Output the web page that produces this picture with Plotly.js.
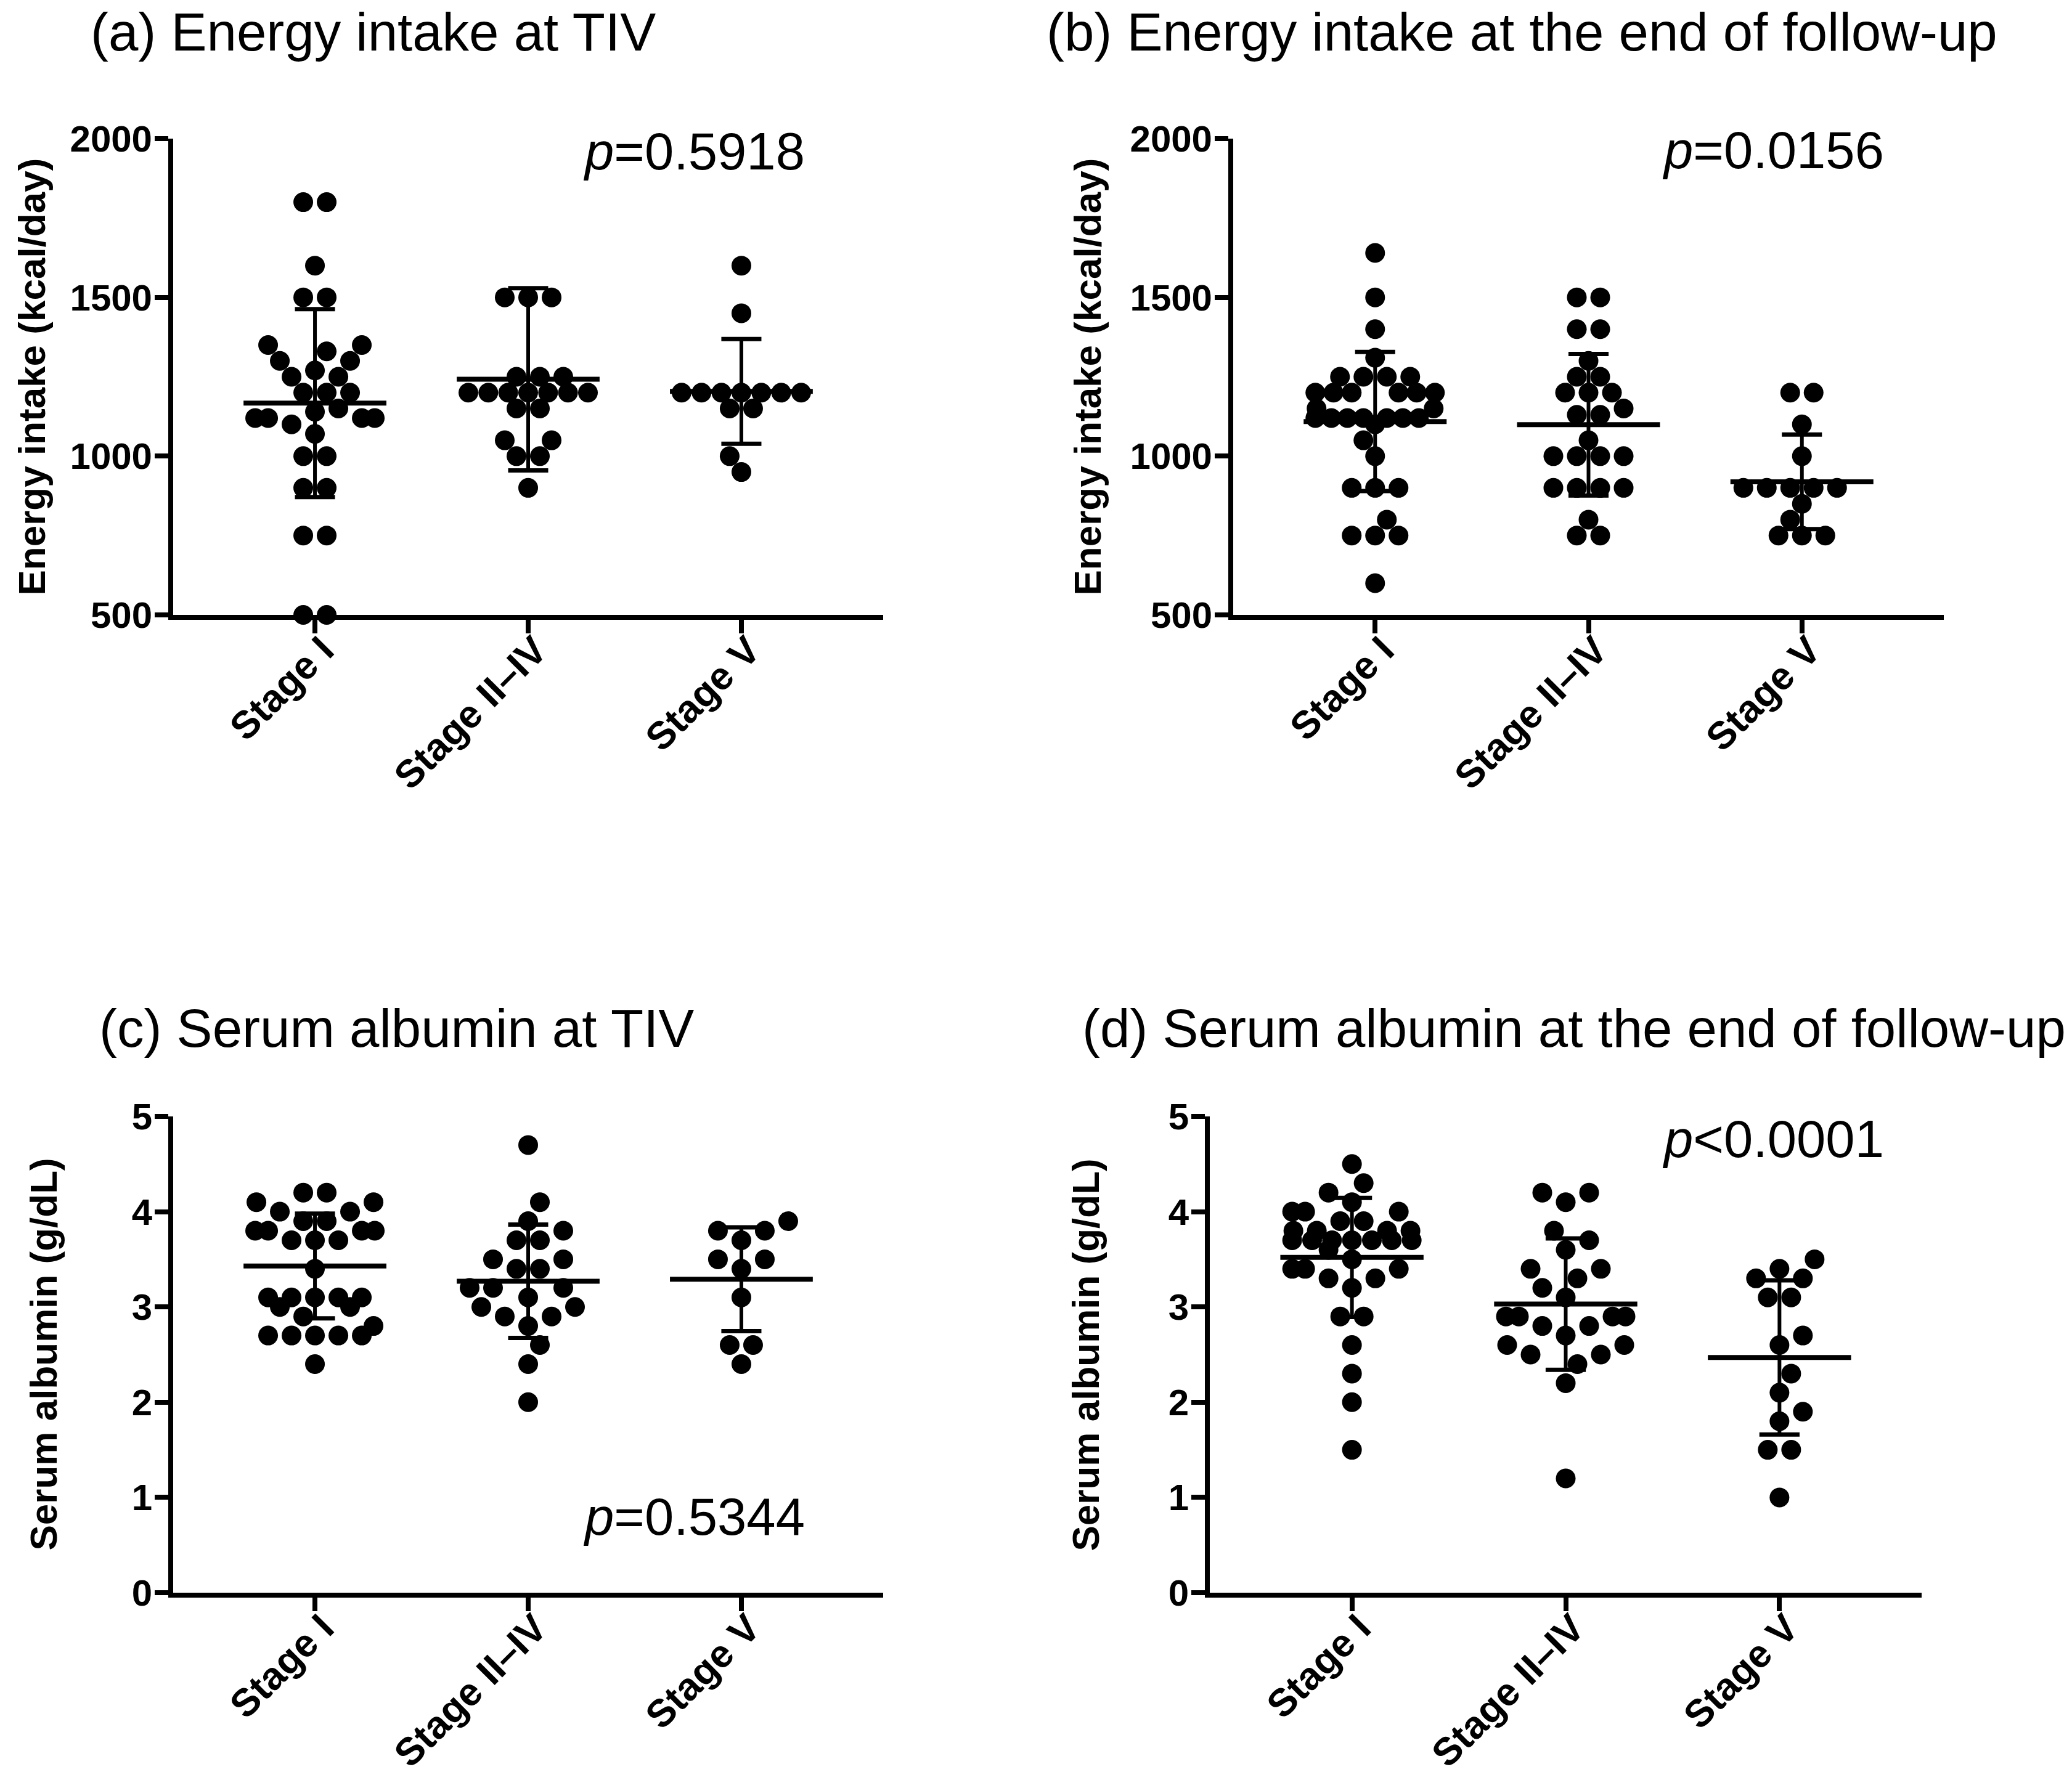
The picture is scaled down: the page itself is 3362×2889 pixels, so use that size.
<!DOCTYPE html>
<html>
<head>
<meta charset="utf-8">
<script src="https://cdn.plot.ly/plotly-3.0.1.min.js"></script>
<style>html,body{margin:0;padding:0;background:#fff;}</style>
</head>
<body>
<div id="chart" style="width:3362px;height:2889px;"></div>
<script>
// ---------------- DATA ----------------
const stageLabels = ["Stage I", "Stage II\u2013IV", "Stage V"];
const energyTicks = [500, 1000, 1500, 2000];
const albuminTicks = [0, 1, 2, 3, 4, 5];

const panelTitles = [
  "(a) Energy intake at TIV",
  "(b) Energy intake at the end of follow-up",
  "(c) Serum albumin at TIV",
  "(d) Serum albumin at the end of follow-up"
];
const yTitles = ["Energy intake (kcal/day)", "Energy intake (kcal/day)", "Serum albumin (g/dL)", "Serum albumin (g/dL)"];
const pValues = ["<i>p</i>=0.5918", "<i>p</i>=0.0156", "<i>p</i>=0.5344", "<i>p</i><0.0001"];

// (a) Energy intake at TIV (kcal/day)
const energyTIV_stageI = [1800,1800,1600,1500,1500,1350,1350,1330,1300,1300,1270,1250,1250,1200,1200,1200,1150,1140,1120,1120,1120,1120,1100,1070,1000,1000,900,900,750,750,500,500];
const energyTIV_stageII_IV = [1500,1500,1500,1250,1250,1250,1200,1200,1200,1200,1200,1200,1200,1150,1150,1050,1050,1000,1000,900];
const energyTIV_stageV = [1600,1450,1200,1200,1200,1200,1200,1200,1200,1150,1150,1000,950];
const energyTIV_mean = [1167, 1242, 1204];
const energyTIV_sd = [296, 287, 165];

// (b) Energy intake at the end of follow-up (kcal/day)
const energyEnd_stageI = [1640,1500,1400,1310,1250,1250,1250,1250,1200,1200,1200,1200,1200,1200,1150,1150,1120,1120,1120,1120,1120,1120,1120,1100,1050,1000,900,900,900,800,750,750,750,600];
const energyEnd_stageII_IV = [1500,1500,1400,1400,1300,1250,1250,1200,1200,1200,1150,1130,1130,1050,1000,1000,1000,1000,900,900,900,900,800,750,750];
const energyEnd_stageV = [1200,1200,1100,1000,900,900,900,900,900,850,800,750,750,750];
const energyEnd_mean = [1109, 1099, 919];
const energyEnd_sd = [219, 223, 149];

// (c) Serum albumin at TIV (g/dL)
const albuminTIV_stageI = [4.2,4.2,4.1,4.1,4.0,4.0,3.9,3.9,3.8,3.8,3.8,3.8,3.7,3.7,3.7,3.4,3.1,3.1,3.1,3.1,3.1,3.0,3.0,2.9,2.8,2.7,2.7,2.7,2.7,2.7,2.4];
const albuminTIV_stageII_IV = [4.7,4.1,3.9,3.8,3.7,3.7,3.5,3.5,3.4,3.4,3.2,3.2,3.2,3.1,3.0,3.0,2.9,2.9,2.8,2.6,2.4,2.0];
const albuminTIV_stageV = [3.9,3.8,3.8,3.7,3.5,3.5,3.4,3.1,2.6,2.6,2.4];
const albuminTIV_mean = [3.43, 3.27, 3.29];
const albuminTIV_sd = [0.55, 0.595, 0.545];

// (d) Serum albumin at the end of follow-up (g/dL)
const albuminEnd_stageI = [4.5,4.3,4.2,4.1,4.0,4.0,4.0,3.9,3.9,3.8,3.8,3.8,3.8,3.7,3.7,3.7,3.7,3.7,3.7,3.7,3.6,3.5,3.4,3.4,3.4,3.3,3.3,3.2,2.9,2.9,2.6,2.3,2.0,1.5];
const albuminEnd_stageII_IV = [4.2,4.2,4.1,3.8,3.7,3.6,3.4,3.4,3.3,3.2,3.1,2.9,2.9,2.9,2.9,2.8,2.8,2.7,2.6,2.6,2.5,2.5,2.4,2.2,1.2];
const albuminEnd_stageV = [3.5,3.4,3.3,3.3,3.1,3.1,2.7,2.6,2.3,2.1,1.9,1.8,1.5,1.5,1.0];
const albuminEnd_mean = [3.52, 3.03, 2.47];
const albuminEnd_sd = [0.625, 0.69, 0.81];

// ---------------- LAYOUT CONSTANTS ----------------
const W_PX = 3362, H_PX = 2889;
const X_RANGE = [-0.665, 2.665];
const AXIS_FONT = "Liberation Sans, Arial, Helvetica, sans-serif";
const TEXT_FONT = "Liberation Sans, Arial, sans-serif";

const panels = [
  {xa:"x",  ya:"y",  box:{l:281, r:1433, t:225,  b:998},  yrange:[500,2000], yticks:energyTicks,
   groups:[energyTIV_stageI, energyTIV_stageII_IV, energyTIV_stageV], mean:energyTIV_mean, sd:energyTIV_sd,
   title:panelTitles[0], titlePos:[145,52], ytitle:yTitles[0], ytitleX:51, p:pValues[0], pPos:[944,246]},
  {xa:"x2", ya:"y2", box:{l:2001, r:3154, t:225,  b:998},  yrange:[500,2000], yticks:energyTicks,
   groups:[energyEnd_stageI, energyEnd_stageII_IV, energyEnd_stageV], mean:energyEnd_mean, sd:energyEnd_sd,
   title:panelTitles[1], titlePos:[1696,52], ytitle:yTitles[1], ytitleX:1764, p:pValues[1], pPos:[2695,243]},
  {xa:"x3", ya:"y3", box:{l:281, r:1433, t:1812, b:2585}, yrange:[0,5], yticks:albuminTicks,
   groups:[albuminTIV_stageI, albuminTIV_stageII_IV, albuminTIV_stageV], mean:albuminTIV_mean, sd:albuminTIV_sd,
   title:panelTitles[2], titlePos:[159,1668], ytitle:yTitles[2], ytitleX:70, p:pValues[2], pPos:[944,2461]},
  {xa:"x4", ya:"y4", box:{l:1963, r:3118, t:1812, b:2585}, yrange:[0,5], yticks:albuminTicks,
   groups:[albuminEnd_stageI, albuminEnd_stageII_IV, albuminEnd_stageV], mean:albuminEnd_mean, sd:albuminEnd_sd,
   title:panelTitles[3], titlePos:[1754,1668], ytitle:yTitles[3], ytitleX:1761, p:pValues[3], pPos:[2695,1848]}
];

// ---------------- scatter-dot (beeswarm) spreading ----------------
function swarmOffsets(values, yPx, s, W, D) {
  const order = values.map((v, i) => i).sort((a, b) => values[a] - values[b]);
  const rows = [];
  for (const i of order) {
    const last = rows[rows.length - 1];
    if (last && values[last[0]] === values[i]) last.push(i); else rows.push([i]);
  }
  const placed = [];
  const off = new Array(values.length).fill(0);
  let flip = false;
  for (const row of rows) {
    const n = row.length;
    const y = values[row[0]] * yPx;
    const cands = [];
    {
      const sp = n > 1 ? Math.min(s, 2 * W / (n - 1)) : s;
      cands.push(Array.from({length: n}, (_, j) => (j - (n - 1) / 2) * sp));
    }
    for (let k = 0; k < 12; k++) {
      const c0 = (k + 1) * s / 2;
      if (c0 > W + 1e-6) break;
      const splits = n % 2 === 0 ? [[n / 2, n / 2]] :
        (flip ? [[(n + 1) / 2, (n - 1) / 2], [(n - 1) / 2, (n + 1) / 2]]
              : [[(n - 1) / 2, (n + 1) / 2], [(n + 1) / 2, (n - 1) / 2]]);
      for (const [L, R] of splits) {
        const m = Math.max(L, R);
        let sp = s;
        if (m > 1 && c0 + (m - 1) * sp > W) sp = (W - c0) / (m - 1);
        if (m > 1 && sp < 0.55 * s) continue;
        const o = [];
        for (let j = 0; j < L; j++) o.push(-(c0 + j * sp));
        for (let j = 0; j < R; j++) o.push(c0 + j * sp);
        cands.push(o);
      }
    }
    let best = cands[0], bestCost = Infinity;
    for (const c of cands) {
      let cost = 0;
      for (const x of c) for (const p of placed) {
        const d = Math.hypot(x - p[0], y - p[1]);
        if (d < D) cost += D - d;
      }
      if (cost < bestCost - 1e-9) { bestCost = cost; best = c; }
      if (cost === 0) break;
    }
    best = best.slice().sort((a, b) => a - b);
    row.forEach((i, j) => { off[i] = best[j]; });
    best.forEach(x => placed.push([x, y]));
    if (n % 2 === 1) flip = !flip;
  }
  return off;
}

// ---------------- build traces / layout ----------------
const traces = [];
const annotations = [];
const layout = {
  width: W_PX, height: H_PX,
  margin: {l: 0, r: 0, t: 0, b: 0, pad: 0},
  paper_bgcolor: "#ffffff", plot_bgcolor: "#ffffff",
  showlegend: false,
  font: {family: AXIS_FONT, color: "#000"}
};

panels.forEach((p, k) => {
  const suffix = k === 0 ? "" : String(k + 1);
  const plotW = p.box.r - p.box.l, plotH = p.box.b - p.box.t;
  const xPx = plotW / (X_RANGE[1] - X_RANGE[0]);
  const yPx = plotH / (p.yrange[1] - p.yrange[0]);

  p.groups.forEach((vals, gi) => {
    const off = swarmOffsets(vals, yPx, 38, 97, 31);
    traces.push({
      type: "scatter", mode: "markers", xaxis: p.xa, yaxis: p.ya,
      x: vals.map((v, i) => gi + off[i] / xPx), y: vals,
      marker: {size: 32, color: "#000", line: {width: 0}},
      cliponaxis: false, hoverinfo: "skip"
    });
  });

  // mean and SD
  const mx = [], my = [], sx = [], sy = [], cx = [], cy = [];
  p.mean.forEach((m, gi) => {
    const sd = p.sd[gi];
    mx.push(gi - 0.335, gi + 0.335, null); my.push(m, m, null);
    sx.push(gi, gi, null); sy.push(m - sd, m + sd, null);
    cx.push(gi - 0.094, gi + 0.094, null, gi - 0.094, gi + 0.094, null);
    cy.push(m + sd, m + sd, null, m - sd, m - sd, null);
  });
  traces.push({type: "scatter", mode: "lines", xaxis: p.xa, yaxis: p.ya, x: mx, y: my,
               line: {color: "#000", width: 8}, cliponaxis: false, hoverinfo: "skip"});
  traces.push({type: "scatter", mode: "lines", xaxis: p.xa, yaxis: p.ya, x: sx, y: sy,
               line: {color: "#000", width: 6}, cliponaxis: false, hoverinfo: "skip"});
  traces.push({type: "scatter", mode: "lines", xaxis: p.xa, yaxis: p.ya, x: cx, y: cy,
               line: {color: "#000", width: 7}, cliponaxis: false, hoverinfo: "skip"});

  layout["xaxis" + suffix] = {
    domain: [p.box.l / W_PX, p.box.r / W_PX], range: X_RANGE, anchor: p.ya,
    tickmode: "array", tickvals: [0, 1, 2], ticktext: stageLabels, tickangle: -45,
    ticks: "outside", ticklen: 22, tickwidth: 8, tickcolor: "#000",
    ticklabelstandoff: -35, ticklabelshift: 12,
    showline: true, linewidth: 8, linecolor: "#000",
    showgrid: false, zeroline: false, fixedrange: true,
    tickfont: {family: AXIS_FONT, size: 63, color: "#000", weight: "bold"}
  };
  layout["yaxis" + suffix] = {
    domain: [1 - p.box.b / H_PX, 1 - p.box.t / H_PX], range: p.yrange, anchor: p.xa,
    tickmode: "array", tickvals: p.yticks, ticktext: p.yticks.map(String),
    ticks: "outside", ticklen: 22, tickwidth: 8, tickcolor: "#000",
    ticklabelstandoff: -8,
    showline: true, linewidth: 8, linecolor: "#000",
    showgrid: false, zeroline: false, fixedrange: true,
    tickfont: {family: AXIS_FONT, size: 60, color: "#000", weight: "bold"}
  };

  annotations.push({
    xref: "paper", yref: "paper", x: p.titlePos[0] / W_PX, y: 1 - p.titlePos[1] / H_PX,
    xanchor: "left", yanchor: "middle", showarrow: false, text: p.title,
    font: {family: TEXT_FONT, size: 87, color: "#000"}
  });
  annotations.push({
    xref: "paper", yref: "paper", x: p.ytitleX / W_PX, y: 1 - (p.box.t + p.box.b) / 2 / H_PX,
    xanchor: "center", yanchor: "middle", showarrow: false, textangle: -90, text: p.ytitle,
    font: {family: AXIS_FONT, size: 62, color: "#000", weight: "bold"}
  });
  annotations.push({
    xref: "paper", yref: "paper", x: p.pPos[0] / W_PX, y: 1 - p.pPos[1] / H_PX,
    xanchor: "left", yanchor: "middle", showarrow: false, text: p.p,
    font: {family: TEXT_FONT, size: 85, color: "#000"}
  });
});
layout.annotations = annotations;

Plotly.newPlot("chart", traces, layout, {displayModeBar: false, staticPlot: true});
</script>
</body>
</html>
